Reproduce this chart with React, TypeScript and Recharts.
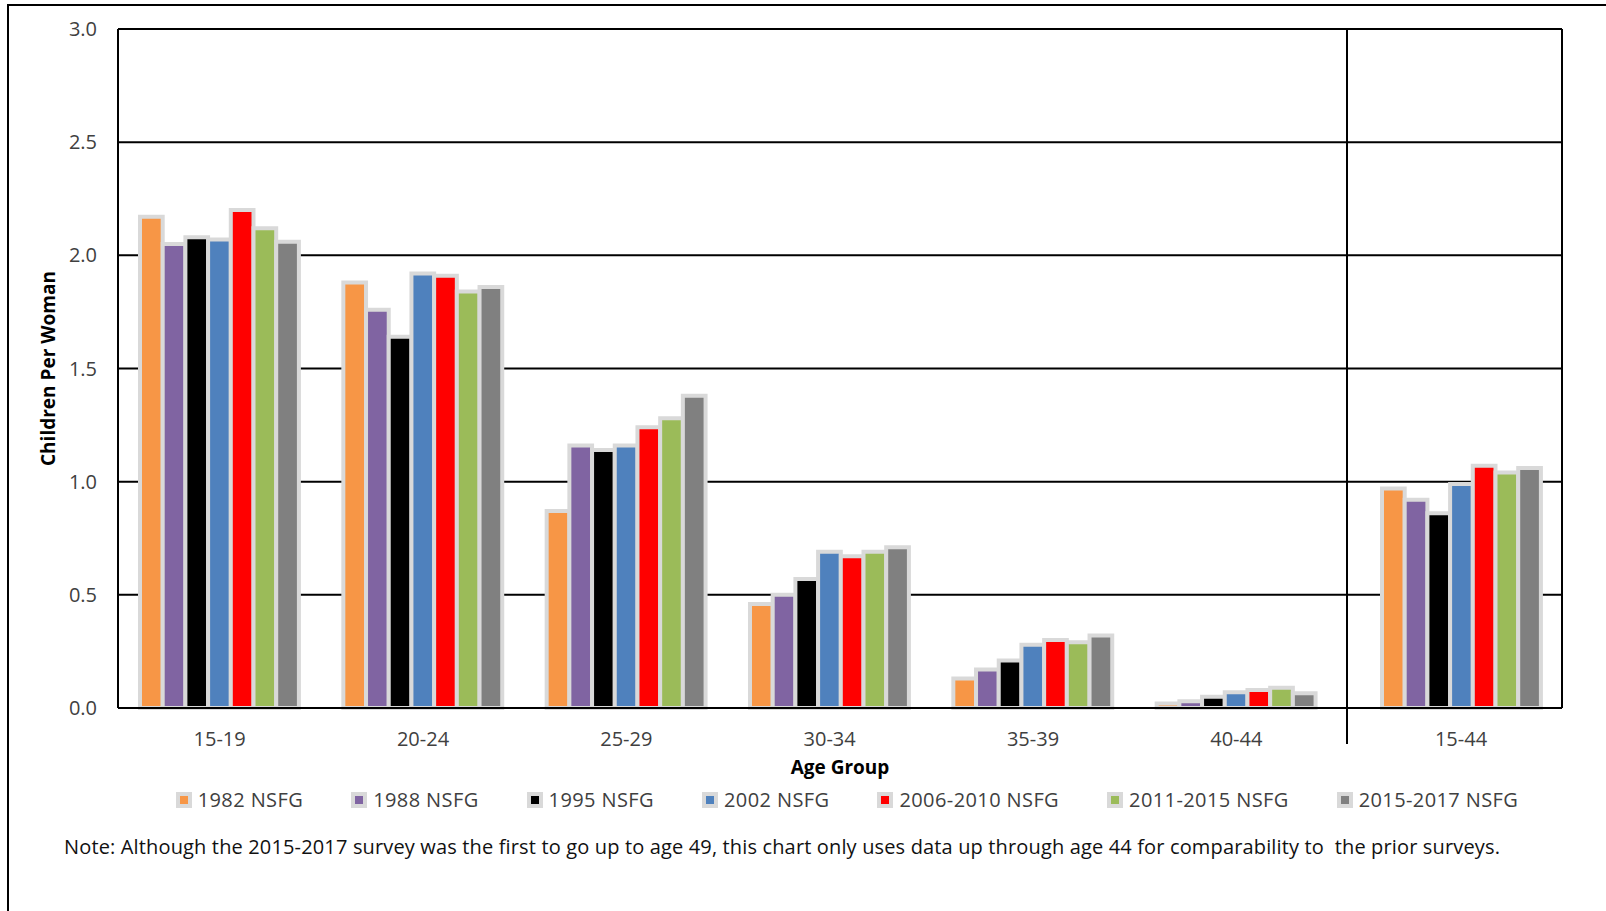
import { BarChart, Bar, XAxis, YAxis, CartesianGrid } from "recharts";

const ageGroups = ["15-19", "20-24", "25-29", "30-34", "35-39", "40-44"];
const totalGroup = ["15-44"];

// values per survey: the six age groups, then 15-44 last
const nsfg1982 = [2.17, 1.88, 0.87, 0.46, 0.13, 0.02, 0.97];
const nsfg1988 = [2.05, 1.76, 1.16, 0.5, 0.17, 0.03, 0.92];
const nsfg1995 = [2.08, 1.64, 1.14, 0.57, 0.21, 0.05, 0.86];
const nsfg2002 = [2.07, 1.92, 1.16, 0.69, 0.28, 0.07, 0.99];
const nsfg2006 = [2.2, 1.91, 1.24, 0.67, 0.3, 0.08, 1.07];
const nsfg2011 = [2.12, 1.84, 1.28, 0.69, 0.29, 0.09, 1.04];
const nsfg2015 = [2.06, 1.86, 1.38, 0.71, 0.32, 0.065, 1.06];

const yTicks = [0, 0.5, 1, 1.5, 2, 2.5, 3];

const series = [
  { key: "s1982", name: "1982 NSFG", color: "#F79646", values: nsfg1982 },
  { key: "s1988", name: "1988 NSFG", color: "#8064A2", values: nsfg1988 },
  { key: "s1995", name: "1995 NSFG", color: "#000000", values: nsfg1995 },
  { key: "s2002", name: "2002 NSFG", color: "#4F81BD", values: nsfg2002 },
  { key: "s2006", name: "2006-2010 NSFG", color: "#FF0000", values: nsfg2006 },
  { key: "s2011", name: "2011-2015 NSFG", color: "#9BBB59", values: nsfg2011 },
  { key: "s2015", name: "2015-2017 NSFG", color: "#808080", values: nsfg2015 },
];

const buildRows = (labels: string[], start: number) =>
  labels.map((age, i) => {
    const row: Record<string, string | number> = { age };
    series.forEach((s) => (row[s.key] = s.values[start + i]));
    return row;
  });

const groupData = buildRows(ageGroups, 0);
const totalData = buildRows(totalGroup, ageGroups.length);

const FONT = "'Open Sans', sans-serif";
const tickStyle = { fontSize: 20, fill: "#404040", fontFamily: FONT };
const HALO = "#D9D9D9";
const axisLine = { stroke: "#000", strokeWidth: 2 };

const renderBars = () =>
  series.map((s) => (
    <Bar
      key={s.key}
      dataKey={s.key}
      name={s.name}
      fill={s.color}
      stroke={HALO}
      strokeWidth={4}
      isAnimationActive={false}
    />
  ));

export default function App() {
  return (
    <div style={{ position: "absolute", left: 0, top: 0, width: 1606, height: 911, background: "#fff", fontFamily: FONT, overflow: "hidden" }}>
      {/* screenshot frame */}
      <div style={{ position: "absolute", left: 7, top: 4, right: -10, bottom: -10, borderLeft: "2.5px solid #000", borderTop: "2.5px solid #000" }} />

      <div style={{ position: "absolute", left: 0, top: 0 }}>
        <BarChart width={1347} height={762} data={groupData} margin={{ top: 29, right: 0, left: 0, bottom: 0 }} barGap={0} barSize={22.7}>
          <CartesianGrid vertical={false} stroke="#000" strokeWidth={2} />
          {renderBars()}
          <XAxis
            dataKey="age"
            interval={0}
            height={54}
            tickLine={false}
            tickSize={0}
            tickMargin={24}
            tick={tickStyle}
            axisLine={axisLine}
            padding={{ left: 0, right: 9 }}
          />
          <YAxis
            width={118}
            domain={[0, 3]}
            ticks={yTicks}
            interval={0}
            tickFormatter={(v: number) => v.toFixed(1)}
            tickLine={false}
            tickSize={0}
            tickMargin={21}
            tick={tickStyle}
            axisLine={axisLine}
            label={{ value: "Children Per Woman", angle: -90, position: "center", dx: -11, style: { fontSize: 19, fontWeight: 700, fill: "#000", fontFamily: FONT } }}
          />
        </BarChart>
      </div>

      {/* 15-44 panel, to the right of the divider */}
      <div style={{ position: "absolute", left: 1342, top: 0 }}>
        <BarChart width={225} height={762} data={totalData} margin={{ top: 29, right: 4, left: 4, bottom: 0 }} barGap={0} barSize={22.7}>
          <CartesianGrid vertical={false} stroke="#000" strokeWidth={2} />
          {renderBars()}
          <XAxis
            dataKey="age"
            interval={0}
            height={54}
            tickLine={false}
            tickSize={0}
            tickMargin={24}
            tick={tickStyle}
            axisLine={axisLine}
            padding={{ left: 13, right: 0 }}
          />
          <YAxis width={1} domain={[0, 3]} ticks={yTicks} interval={0} tickFormatter={() => ""} tickLine={false} tickSize={0} axisLine={axisLine} />
          <YAxis yAxisId="border" orientation="right" width={1} domain={[0, 3]} ticks={yTicks} tick={false} tickLine={false} tickSize={0} axisLine={axisLine} />
        </BarChart>
      </div>

      {/* divider tick below the axis */}
      <div style={{ position: "absolute", left: 1346, top: 708, width: 2, height: 36, background: "#000" }} />

      <div style={{ position: "absolute", left: 118, top: 755, width: 1444, textAlign: "center", fontSize: 19, lineHeight: "24px", fontWeight: 700, color: "#000" }}>
        Age Group
      </div>

      <div style={{ position: "absolute", left: 125, top: 788, width: 1444, display: "flex", justifyContent: "center", gap: 48, fontSize: 20, lineHeight: "24px", letterSpacing: 0.4, color: "#404040" }}>
        {series.map((s) => (
          <div key={s.key} style={{ display: "flex", alignItems: "center" }}>
            <div style={{ width: 8, height: 8, border: `4px solid ${HALO}`, background: s.color, marginRight: 6 }} />
            <span>{s.name}</span>
          </div>
        ))}
      </div>

      <div style={{ position: "absolute", left: 64, top: 835, fontSize: 20, lineHeight: "24px", letterSpacing: 0.15, color: "#111", whiteSpace: "pre" }}>
        Note: Although the 2015-2017 survey was the first to go up to age 49, this chart only uses data up through age 44 for comparability to  the prior surveys.
      </div>
    </div>
  );
}
